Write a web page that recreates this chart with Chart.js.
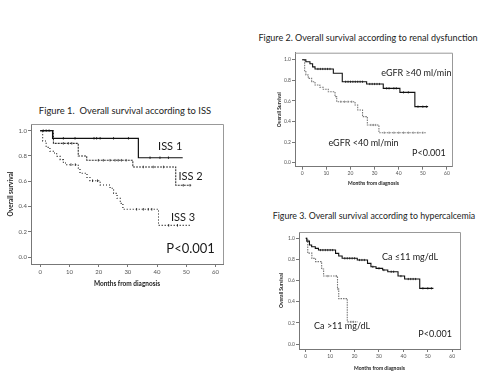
<!DOCTYPE html>
<html>
<head>
<meta charset="utf-8">
<script src="https://cdn.jsdelivr.net/npm/chart.js@4"></script>
<style>
    body { margin: 0; background: #fff; width: 500px; height: 375px; position: relative; overflow: hidden; font-family: Lato, "Open Sans", sans-serif; }
    .fig { position: absolute; }
    .title { position: absolute; white-space: nowrap; color: #222; transform: translate(-50%, -50%); }
</style>
</head>
<body>
<div class="title" style="left:125px; top:110px; font-size:9.4px;">Figure 1.&nbsp; Overall survival according to ISS</div>
<div class="title" style="left:368px; top:37px; font-size:9px;">Figure 2. Overall survival according to renal dysfunction</div>
<div class="title" style="left:374px; top:215px; font-size:8.8px;">Figure 3. Overall survival according to hypercalcemia</div>

<div class="fig" style="left:0; top:118px; width:250px; height:175px;"><canvas id="fig1"></canvas></div>
<div class="fig" style="left:250px; top:45px; width:250px; height:145px;"><canvas id="fig2"></canvas></div>
<div class="fig" style="left:250px; top:225px; width:250px; height:150px;"><canvas id="fig3"></canvas></div>

<script>
// Shared tick labels
const monthTicks = [0, 10, 20, 30, 40, 50, 60];
const survivalTicks = [0, 0.2, 0.4, 0.6, 0.8, 1.0];

// Figure 1 - ISS stages (month of each step, survival after the step)
const iss1Months = [0, 4.2, 33.6, 48.8];
const iss1Surv = [1, 0.94, 0.786, 0.786];
const iss1Censored = [1, 2, 3, 7.9, 11.9, 18.4, 19.3, 20.5, 25.1, 30.2, 37.6, 41.0, 43.9];

const iss2Months = [0, 4.5, 13.0, 15.9, 31.7, 46.4, 51.7];
const iss2Surv = [1, 0.90, 0.80, 0.766, 0.713, 0.568, 0.568];
const iss2Censored = [7.9, 9.6, 10.8, 19.9, 21.6, 23.9, 25.6, 26.7, 27.8, 29.4, 35.3, 38.7, 42.2, 49.0, 51.3];

const iss3Months = [0, 0.8, 2.0, 3.3, 4.5, 5.6, 6.8, 7.9, 9.0, 13.0, 13.6, 16.0, 17.0, 20.5, 23.9, 25.1, 26.3, 27.4, 28.3, 40.5, 51.7];
const iss3Surv = [1, 0.918, 0.868, 0.837, 0.823, 0.797, 0.771, 0.744, 0.731, 0.705, 0.663, 0.63, 0.604, 0.57, 0.544, 0.504, 0.465, 0.425, 0.378, 0.251, 0.251];
const iss3Censored = [10.5, 12, 17.9, 19.6, 33.0, 35.3, 37.0, 38.2, 44, 47];

// Figure 2 - renal function
const egfrHighMonths = [0, 1.5, 3.2, 4.3, 5.3, 12.9, 16.6, 26.7, 33.6, 40.5, 46.7, 52.2];
const egfrHighSurv = [1, 0.98, 0.96, 0.93, 0.91, 0.868, 0.786, 0.764, 0.722, 0.683, 0.544, 0.544];
const egfrHighCensored = [6.5, 7.5, 8.5, 9.5, 10.5, 11.5, 18, 19, 20, 21, 22, 23, 24, 25, 28, 29, 30, 31, 32, 35, 36, 38, 39, 42, 44, 48, 50, 51.5];

const egfrLowMonths = [0, 1.0, 1.5, 2.5, 3.9, 5.3, 7.3, 8.7, 10.8, 13.6, 14.3, 21.9, 23.0, 25.0, 27.0, 31.8, 51.6];
const egfrLowSurv = [1, 0.884, 0.851, 0.819, 0.786, 0.754, 0.732, 0.713, 0.689, 0.641, 0.592, 0.56, 0.512, 0.447, 0.366, 0.291, 0.291];
const egfrLowCensored = [16, 17.5, 19, 20.5, 28.5, 29.5, 30.5, 34, 36, 38, 40, 42, 44, 46, 48, 50];

// Figure 3 - calcium
const caLowMonths = [0, 0.4, 1.5, 2.4, 3.9, 5.2, 12.2, 13.5, 14.9, 21.1, 25.3, 26.7, 28.8, 31.5, 33.6, 37.8, 40.5, 46.7, 52.3];
const caLowSurv = [1, 0.974, 0.937, 0.921, 0.905, 0.889, 0.858, 0.833, 0.811, 0.795, 0.763, 0.731, 0.716, 0.70, 0.684, 0.643, 0.615, 0.527, 0.527];
const caLowCensored = [6, 7, 8, 9, 10, 11, 16, 17, 18, 19, 20, 22, 23, 24, 27.5, 30, 32, 35, 36, 39, 42, 43, 44, 45, 48, 50, 51.5];

const caHighMonths = [0, 0.8, 2.5, 4.0, 6.5, 7.3, 13.0, 13.5, 17.0, 21.3];
const caHighSurv = [1, 0.86, 0.81, 0.78, 0.71, 0.643, 0.52, 0.43, 0.21, 0.21];
const caHighCensored = [9, 12.5, 13.2, 18.5, 19.5];

const fontFamily = 'Lato, "Open Sans", sans-serif';

// Survival value of a step curve at a given month (used to place censor ticks)
function survivalAt(months, surv, t) {
    let value = surv[0];
    for (let i = 0; i < months.length; i++) {
        if (months[i] <= t) value = surv[i];
    }
    return value;
}

// Draws the light frame round the plot area and the text labels inside it
const kmDecorations = {
    id: 'kmDecorations',
    beforeDatasetsDraw(chart) {
        const {ctx, chartArea} = chart;
        ctx.save();
        ctx.strokeStyle = '#999';
        ctx.lineWidth = 1;
        ctx.beginPath();
        ctx.moveTo(chartArea.left, chartArea.top + 0.5);
        ctx.lineTo(chartArea.right + 0.5, chartArea.top + 0.5);
        ctx.lineTo(chartArea.right + 0.5, chartArea.bottom);
        ctx.stroke();
        ctx.restore();
    },
    afterDatasetsDraw(chart, args, opts) {
        const {ctx, scales} = chart;
        ctx.save();
        ctx.fillStyle = '#1a1a1a';
        ctx.textAlign = 'center';
        ctx.textBaseline = 'middle';
        (opts.items || []).forEach(item => {
            ctx.font = `${item.size}px ${fontFamily}`;
            ctx.fillText(item.text, scales.x.getPixelForValue(item.x), scales.y.getPixelForValue(item.y));
        });
        ctx.restore();
    }
};

function buildChart(canvasId, cfg) {
    const datasets = [];

    cfg.series.forEach(s => {
        datasets.push({
            type: 'line',
            data: s.months.map((m, i) => ({x: m, y: s.surv[i]})),
            borderColor: s.color,
            borderWidth: s.width,
            borderDash: s.dash,
            stepped: 'before',
            pointRadius: 0,
            fill: false
        });
        // Censored observations as small vertical ticks
        datasets.push({
            type: 'scatter',
            data: s.censored.map(m => ({x: m, y: survivalAt(s.months, s.surv, m)})),
            pointStyle: 'line',
            rotation: 90,
            pointRadius: cfg.tickRadius,
            borderColor: s.color,
            borderWidth: 0.8,
            showLine: false
        });
    });

    new Chart(document.getElementById(canvasId), {
        data: {datasets},
        options: {
            animation: false,
            responsive: true,
            maintainAspectRatio: false,
            layout: {padding: cfg.padding},
            plugins: {
                legend: {display: false},
                tooltip: {enabled: false},
                kmDecorations: {items: cfg.labels}
            },
            scales: {
                x: {
                    type: 'linear',
                    min: cfg.xRange[0],
                    max: cfg.xRange[1],
                    afterBuildTicks: axis => { axis.ticks = monthTicks.map(v => ({value: v})); },
                    afterFit: scale => { scale.height = cfg.xHeight; },
                    grid: {drawOnChartArea: false, tickLength: 3, color: '#777'},
                    border: {color: '#777'},
                    ticks: {font: {size: cfg.tickSize, family: fontFamily}, color: '#555', padding: 1, maxRotation: 0, autoSkip: false},
                    title: {
                        display: true,
                        text: 'Months from diagnosis',
                        color: '#222',
                        font: {size: cfg.titleSize, weight: 'bold', family: fontFamily},
                        padding: {top: 0, bottom: cfg.xTitlePad}
                    }
                },
                y: {
                    type: 'linear',
                    min: cfg.yRange[0],
                    max: cfg.yRange[1],
                    afterBuildTicks: axis => { axis.ticks = survivalTicks.map(v => ({value: v})); },
                    afterFit: scale => { scale.width = cfg.yWidth; },
                    grid: {drawOnChartArea: false, tickLength: 3, color: '#777'},
                    border: {color: '#777'},
                    ticks: {font: {size: cfg.tickSize, family: fontFamily}, color: '#555', padding: 1, callback: v => v.toFixed(1)},
                    title: {
                        display: true,
                        text: cfg.yTitle,
                        color: '#222',
                        font: {size: cfg.titleSize, weight: 'bold', family: fontFamily},
                        padding: {top: cfg.yTitlePad, bottom: 0}
                    }
                }
            }
        },
        plugins: [kmDecorations]
    });
}

buildChart('fig1', {
    series: [
        {months: iss1Months, surv: iss1Surv, censored: iss1Censored, color: '#111', width: 1.2, dash: []},
        {months: iss2Months, surv: iss2Surv, censored: iss2Censored, color: '#333', width: 1.1, dash: [2, 1]},
        {months: iss3Months, surv: iss3Surv, censored: iss3Censored, color: '#111', width: 1.1, dash: [1, 2]}
    ],
    xRange: [-3.19, 62.6],
    yRange: [-0.055, 1.053],
    padding: {top: 6, right: 27, left: 0, bottom: 0},
    yWidth: 31,
    xHeight: 29,
    tickSize: 6,
    titleSize: 6.5,
    tickRadius: 1.3,
    xTitlePad: 5,
    yTitlePad: 7,
    yTitle: 'Overall survival',
    labels: [
        {text: 'ISS 1', x: 44.5, y: 0.879, size: 11},
        {text: 'ISS 2', x: 51.5, y: 0.636, size: 11},
        {text: 'ISS 3', x: 48.9, y: 0.317, size: 11},
        {text: 'P<0.001', x: 51.5, y: 0.063, size: 13}
    ]
});

buildChart('fig2', {
    series: [
        {months: egfrHighMonths, surv: egfrHighSurv, censored: egfrHighCensored, color: '#111', width: 1.1, dash: []},
        {months: egfrLowMonths, surv: egfrLowSurv, censored: egfrLowCensored, color: '#777', width: 1.1, dash: [1.5, 1]}
    ],
    xRange: [-3.0, 62.1],
    yRange: [-0.039, 1.068],
    padding: {top: 7.7, right: 48, left: 0, bottom: 0},
    yWidth: 45,
    xHeight: 23.3,
    tickSize: 5,
    titleSize: 5,
    tickRadius: 1.1,
    xTitlePad: 4,
    yTitlePad: 26,
    yTitle: 'Overall Survival',
    labels: [
        {text: 'eGFR \u226540 ml/min', x: 47.3, y: 0.871, size: 9},
        {text: 'eGFR <40 ml/min', x: 25.4, y: 0.194, size: 9},
        {text: 'P<0.001', x: 52.5, y: 0.097, size: 9}
    ]
});

buildChart('fig3', {
    series: [
        {months: caLowMonths, surv: caLowSurv, censored: caLowCensored, color: '#111', width: 1.1, dash: []},
        {months: caHighMonths, surv: caHighSurv, censored: caHighCensored, color: '#777', width: 1.1, dash: [1.5, 1]}
    ],
    xRange: [-2.78, 63.2],
    yRange: [-0.047, 1.06],
    padding: {top: 7, right: 40, left: 0, bottom: 0},
    yWidth: 49,
    xHeight: 26,
    tickSize: 5,
    titleSize: 5,
    tickRadius: 1.1,
    xTitlePad: 4,
    yTitlePad: 28,
    yTitle: 'Overall Survival',
    labels: [
        {text: 'Ca \u226411 mg/dL', x: 42.7, y: 0.823, size: 9},
        {text: 'Ca >11 mg/dL', x: 14.9, y: 0.173, size: 9},
        {text: 'P<0.001', x: 53.0, y: 0.095, size: 9}
    ]
});
</script>
</body>
</html>
